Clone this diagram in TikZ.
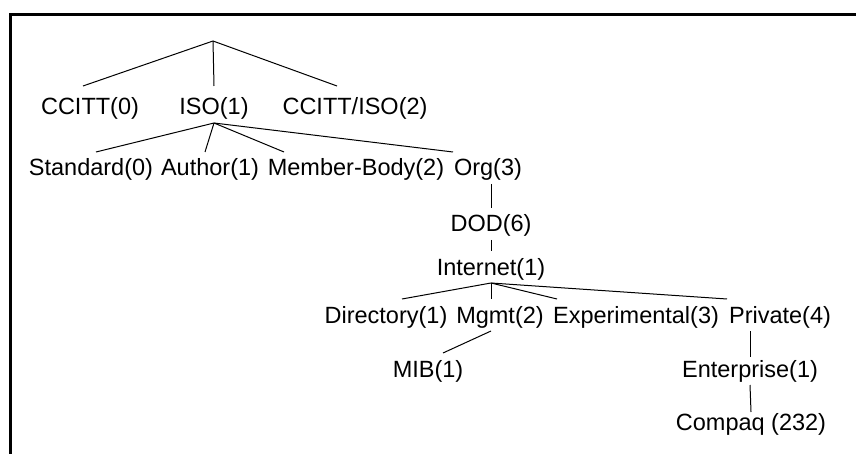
\documentclass[tikz,border=0pt]{standalone}
\usepackage{fontspec}
\setmainfont{Liberation Sans}
\usepackage{tikz}

\begin{document}
\begin{tikzpicture}[x=1pt, y=-1pt,
    oid/.style={anchor=base, inner sep=0pt, outer sep=3pt, text height=21pt, text depth=5pt,
        font=\fontsize{23.5}{28}\selectfont},
    branch/.style={line width=1pt}]
        \useasboundingbox (0,0) rectangle (856,454);
        \draw[line width=3pt] (857,15) -- (10,15) -- (10,455);

        % top level
        \coordinate (root) at (213,41);
        \node[oid] (ccitt) at (90,115) {CCITT(0)};
        \node[oid] (iso) at (214,115) {ISO(1)};
        \node[oid] (ccittiso) at (355,115) {CCITT/ISO(2)};

        % under ISO
        \node[oid] (std) at (91,176) {Standard(0)};
        \node[oid] (author) at (210,176) {Author(1)};
        \node[oid] (member) at (356,176) {Member-Body(2)};
        \node[oid] (org) at (488,176) {Org(3)};

        \node[oid] (dod) at (491,232) {DOD(6)};
        \node[oid] (internet) at (491,275) {Internet(1)};

        % under Internet
        \node[oid] (directory) at (386,323) {Directory(1)};
        \node[oid] (mgmt) at (500,323) {Mgmt(2)};
        \node[oid] (experimental) at (636,323) {Experimental(3)};
        \node[oid] (private) at (780,323) {Private(4)};

        \node[oid] (mib) at (428,377) {MIB(1)};
        \node[oid] (enterprise) at (750,377) {Enterprise(1)};
        \node[oid] (compaq) at (751,430) {Compaq (232)};

        \draw[branch] (root) -- ([xshift=-7pt,yshift=5pt]ccitt.north);
        \draw[branch] (root) -- ([yshift=5pt]iso.north);
        \draw[branch] (root) -- ([xshift=-18pt,yshift=5pt]ccittiso.north);

        \draw[branch] (iso.south) -- ([xshift=5pt]std.north);
        \draw[branch] (iso.south) -- ([xshift=-5pt]author.north);
        \draw[branch] (iso.south) -- ([xshift=-72pt]member.north);
        \draw[branch] (iso.south) -- ([xshift=-35pt]org.north);

        \draw[branch] (dod.north |- org.south) -- (dod.north);
        \draw[branch] (dod.south) -- (internet.north);

        \draw[branch] (internet.south) -- ([xshift=16pt]directory.north);
        \draw[branch] (internet.south) -- ([xshift=-9pt]mgmt.north);
        \draw[branch] (internet.south) -- ([xshift=-79pt]experimental.north);
        \draw[branch] (internet.south) -- ([xshift=-53pt]private.north);

        \draw[branch] ([xshift=-9pt]mgmt.south) -- ([xshift=15pt]mib.north);
        \draw[branch] (enterprise.north |- private.south) -- ([yshift=-4pt]enterprise.north);
        \draw[branch] (enterprise.south) -- ([yshift=-6pt]compaq.north);

    \end{tikzpicture}
\end{document}
